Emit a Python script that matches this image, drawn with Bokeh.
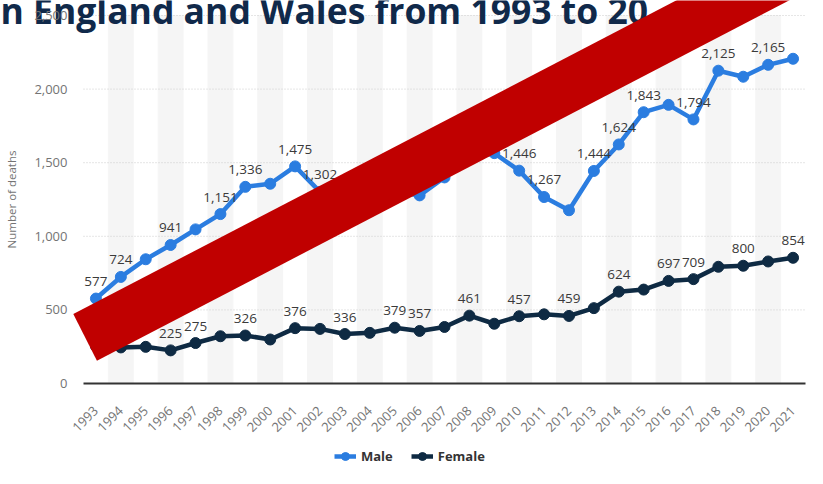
import math
from bokeh.plotting import figure
from bokeh.models import (Range1d, FixedTicker, NumeralTickFormatter, Label,
                          PolyAnnotation, Legend, LegendItem, ColumnDataSource)
from bokeh.core.properties import value
from bokeh.embed import file_html
from bokeh.resources import INLINE

# ---------------- data ----------------
years = [1993, 1994, 1995, 1996, 1997, 1998, 1999, 2000, 2001, 2002,
         2003, 2004, 2005, 2006, 2007, 2008, 2009, 2010, 2011, 2012,
         2013, 2014, 2015, 2016, 2017, 2018, 2019, 2020, 2021]
male = [577, 724, 844, 941, 1047, 1151, 1336, 1357, 1475, 1302,
        1220, 1240, 1300, 1278, 1400, 1530, 1565, 1446, 1267, 1177,
        1444, 1624, 1843, 1893, 1794, 2125, 2084, 2165, 2206]
female = [254, 245, 249, 225, 275, 321, 326, 299, 376, 371,
          336, 344, 379, 357, 384, 461, 406, 457, 470, 459,
          512, 624, 638, 697, 709, 793, 800, 829, 854]
male_label_years = [1993, 1994, 1996, 1998, 1999, 2001, 2002, 2010, 2011,
                    2013, 2014, 2015, 2017, 2018, 2020]
female_label_years = [1996, 1997, 1999, 2001, 2003, 2005, 2006, 2008, 2010,
                      2012, 2014, 2016, 2017, 2019, 2021]
y_ticks = [0, 500, 1000, 1500, 2000, 2500]
title_text = "n England and Wales from 1993 to 20"
y_label = "Number of deaths"
series_names = ["Male", "Female"]

# overlay cross-out bar (data coordinates)
bar_xs = [1992.09, 1993.04, 2028.04, 2027.09]
bar_ys = [472, 155, 3236, 3551]

# ---------------- layout (pixels) ----------------
W, H = 807, 468
PLOT_L, PLOT_R = 83, 805      # pixel x of plot area edges
PLOT_T, PLOT_B = 15, 383      # pixel y of top tick and of zero line

x0, x1 = years[0] - 0.5, years[-1] + 0.5
y0, y1 = y_ticks[0], y_ticks[-1]
px_x = (PLOT_R - PLOT_L) / (x1 - x0)
px_y = (PLOT_B - PLOT_T) / (y1 - y0)
x_range = Range1d(x0 - PLOT_L / px_x, x1 + (W - PLOT_R) / px_x)
y_range = Range1d(y0 - (H - PLOT_B) / px_y, y1 + PLOT_T / px_y)

# ---------------- styles ----------------
FONT = "Open Sans"
BLUE = "#2b7de0"
NAVY = "#0e2a43"
TITLE_C = "#10294a"
GREY = "#747474"
LABEL_C = "#3a3a3a"

p = figure(width=W, height=H, output_backend="svg", toolbar_location=None,
           title=None, x_range=x_range, y_range=y_range,
           min_border=0, min_border_left=0, min_border_right=0,
           min_border_top=0, min_border_bottom=0)
p.outline_line_color = None
p.background_fill_color = "white"
p.border_fill_color = "white"

# alternating column bands
band_years = years[1::2]
p.vbar(x=band_years, width=1, top=y1, bottom=y0,
       color="#f5f5f5", level="underlay")

# horizontal dotted grid limited to the plot area
p.xgrid.visible = False
p.ygrid.visible = False
grid_vals = y_ticks[1:]
p.segment(x0=[x0] * len(grid_vals), x1=[x1] * len(grid_vals),
          y0=grid_vals, y1=grid_vals, line_color="#cccccc",
          line_dash="1 2", line_width=1, level="underlay")

# x axis drawn at y = 0
xa = p.xaxis[0]
xa.fixed_location = y0
xa.bounds = (x0, x1)
xa.ticker = FixedTicker(ticks=years)
xa.major_label_overrides = {y: str(y) for y in years}
xa.major_label_orientation = math.pi / 4
xa.major_tick_line_color = None
xa.minor_tick_line_color = None
xa.major_tick_out = 0
xa.major_tick_in = 0
xa.axis_line_color = "#333333"
xa.axis_line_width = 2
xa.major_label_text_font = FONT
xa.major_label_text_font_size = "13px"
xa.major_label_text_color = GREY
xa.major_label_standoff = 25

# y axis drawn at left edge of plot area
ya = p.yaxis[0]
ya.fixed_location = x0
ya.bounds = (y0, y1)
ya.ticker = FixedTicker(ticks=y_ticks)
ya.formatter = NumeralTickFormatter(format="0,0")
ya.axis_line_color = None
ya.major_tick_line_color = None
ya.minor_tick_line_color = None
ya.major_tick_out = 0
ya.major_tick_in = 0
ya.major_label_standoff = 16
ya.major_label_text_font = FONT
ya.major_label_text_font_size = "13px"
ya.major_label_text_color = GREY
ya.axis_label = y_label
ya.axis_label_text_font = FONT
ya.axis_label_text_font_size = "11.5px"
ya.axis_label_text_font_style = "normal"
ya.axis_label_text_color = GREY
ya.axis_label_standoff = 12

# title (cropped at the top-left, drawn under the axis labels)
p.add_layout(Label(x=0, y=H - 9, x_units="screen", y_units="screen",
                   text=title_text, text_font=FONT, text_font_size="35.5px",
                   text_font_style="bold", text_color=TITLE_C,
                   text_align="left", text_baseline="alphabetic",
                   level="underlay"))

# series
ml = p.line(years, male, line_width=4.5, color=BLUE)
ms = p.scatter(years, male, size=11, color=BLUE)
fl = p.line(years, female, line_width=4.5, color=NAVY)
fs = p.scatter(years, female, size=11, color=NAVY)

# data labels
def label_source(vals, label_years):
    xs, ys, ts = [], [], []
    for yr, v in zip(years, vals):
        if yr in label_years:
            xs.append(yr); ys.append(v); ts.append(f"{v:,}")
    return ColumnDataSource(dict(x=xs, y=ys, t=ts))

for vals, ly in ((male, male_label_years), (female, female_label_years)):
    p.text(x="x", y="y", text="t", source=label_source(vals, ly),
           text_align="center", text_baseline="alphabetic", y_offset=-17,
           text_font=value(FONT), text_font_size="13.5px", text_color=LABEL_C)

# legend
legend = Legend(items=[LegendItem(label=series_names[0], renderers=[ml, ms]),
                       LegendItem(label=series_names[1], renderers=[fl, fs])],
                location=(334, 2), orientation="horizontal",
                padding=0, margin=0, spacing=18, label_standoff=5,
                glyph_width=22, glyph_height=20, label_height=20,
                border_line_color=None, background_fill_alpha=0,
                label_text_font=FONT, label_text_font_size="13px",
                label_text_font_style="bold", label_text_color="#333333")
p.add_layout(legend)

# red cross-out bar
p.add_layout(PolyAnnotation(xs=bar_xs, ys=bar_ys, fill_color="#c00000",
                            fill_alpha=1.0, line_color=None))

open("out.html", "w").write(file_html(p, INLINE))
